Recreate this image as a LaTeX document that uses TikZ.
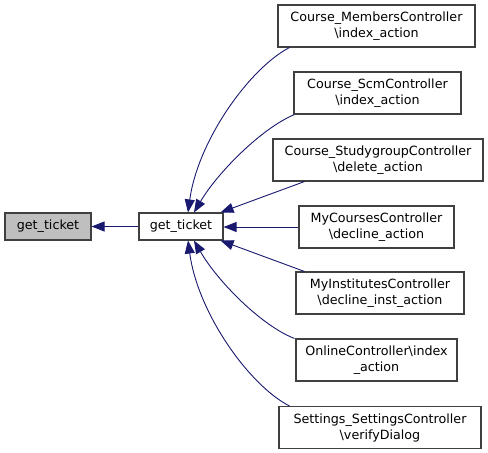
\documentclass[tikz,border=0pt]{standalone}
\usepackage{fontspec}
\setmainfont{DejaVu Sans}
\usetikzlibrary{arrows.meta}
\definecolor{edgeblue}{RGB}{25,25,112}
\definecolor{boxgray}{RGB}{191,191,191}
\definecolor{bordergray}{RGB}{64,64,64}
\tikzset{
  box/.style={draw=bordergray, line width=1.1pt, fill=white, inner sep=0pt, align=center,
    font=\fontsize{12.7}{16}\selectfont, anchor=center},
  edge/.style={draw=edgeblue, line width=0.9pt, -{Triangle[length=13pt,width=10pt]}},
}
\begin{document}
\begin{tikzpicture}[x=1pt,y=-1pt]
\useasboundingbox (0,0) rectangle (488,453);
\fill[white] (0,0) rectangle (488,453);
\node[box, fill=boxgray, minimum width=86pt, minimum height=27pt] (L) at (48,226.5) {get\_ticket};
\node[box, minimum width=84pt, minimum height=27pt] (M) at (181,226.5) {get\_ticket};
\node[box, minimum width=197pt, minimum height=42pt] (B1) at (376.5,26) {Course\_MembersController\\\textbackslash index\_action};
\node[box, minimum width=167pt, minimum height=42pt] (B2) at (377.5,93) {Course\_ScmController\\\textbackslash index\_action};
\node[box, minimum width=210pt, minimum height=42pt] (B3) at (378,160) {Course\_StudygroupController\\\textbackslash delete\_action};
\node[box, minimum width=155pt, minimum height=42pt] (B4) at (376.5,227) {MyCoursesController\\\textbackslash decline\_action};
\node[box, minimum width=168pt, minimum height=42pt] (B5) at (380,293) {MyInstitutesController\\\textbackslash decline\_inst\_action};
\node[box, minimum width=161pt, minimum height=42pt] (B6) at (376.5,360) {OnlineController\textbackslash index\\\_action};
\node[box, minimum width=202pt, minimum height=42pt] (B7) at (380,427.5) {Settings\_SettingsController\\\textbackslash verifyDialog};

\draw[edge] (M.west) -- (L.east);
\draw[edge] ([xshift=12pt]B1.south west) .. controls (250,68) and (198,140) .. ([xshift=7pt]M.north);
\draw[edge] ([xshift=1pt]B2.south west) .. controls (262,128) and (218,172) .. ([xshift=13pt]M.north);
\draw[edge] ([xshift=32pt]B3.south west) -- ([xshift=-3pt]M.north east);
\draw[edge] (B4.west) -- (M.east |- B4.west);
\draw[edge] ([xshift=9pt]B5.north west) -- ([xshift=-3pt]M.south east);
\draw[edge] ([xshift=-1pt]B6.north west) .. controls (262,326) and (218,282) .. ([xshift=13pt]M.south);
\draw[edge] ([xshift=11pt]B7.north west) .. controls (250,386) and (198,314) .. ([xshift=7pt]M.south);
\end{tikzpicture}
\end{document}
